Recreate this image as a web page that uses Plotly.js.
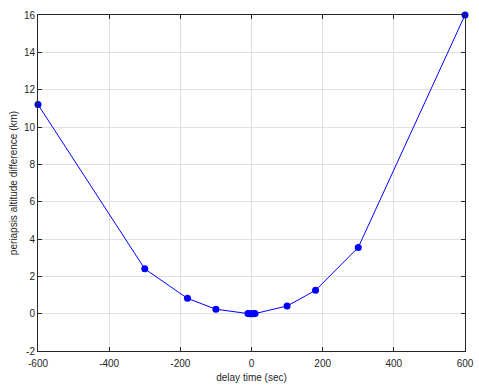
<!DOCTYPE html>
<html>
<head>
<meta charset="utf-8">
<script src="https://cdn.plot.ly/plotly-3.0.1.min.js"></script>
<style>html,body{margin:0;padding:0;background:#fff;}#chart{width:479px;height:386px;}</style>
</head>
<body>
<div id="chart"></div>
<script>
const delayTime = [-600, -300, -180, -100, -10, -5, 0, 5, 10, 100, 180, 300, 600];
const altitudeDiff = [11.2, 2.4, 0.82, 0.24, 0.004, 0.001, 0, 0.001, 0.004, 0.41, 1.25, 3.55, 16];
const xTicks = [-600, -400, -200, 0, 200, 400, 600];
const yTicks = [-2, 0, 2, 4, 6, 8, 10, 12, 14, 16];

const fontSpec = {family: 'Liberation Sans, Arial, sans-serif', size: 10, color: '#262626'};
const axisCommon = {
  showline: true, linecolor: '#262626', linewidth: 1, mirror: 'ticks',
  ticks: 'inside', ticklen: 4, tickcolor: '#262626', tickwidth: 1,
  showgrid: true, gridcolor: '#e0e0e0', gridwidth: 1,
  zeroline: false,
  tickfont: fontSpec
};

Plotly.newPlot('chart', [{
  x: delayTime, y: altitudeDiff, type: 'scatter', mode: 'lines+markers',
  cliponaxis: false,
  line: {color: '#0000ff', width: 1},
  marker: {color: '#0000ff', size: 7}
}], {
  width: 479, height: 386,
  margin: {l: 38, r: 14, t: 15, b: 35},
  paper_bgcolor: '#ffffff', plot_bgcolor: '#ffffff',
  showlegend: false,
  xaxis: Object.assign({}, axisCommon, {
    range: [-600, 600], tickvals: xTicks, ticktext: xTicks.map(String),
    ticklabelstandoff: 3,
    title: {text: 'delay time (sec)', standoff: 5, font: fontSpec}
  }),
  yaxis: Object.assign({}, axisCommon, {
    range: [-2, 16], tickvals: yTicks, ticktext: yTicks.map(String),
    title: {text: 'periapsis altitude difference (km)', standoff: 4, font: fontSpec}
  })
}, {displayModeBar: false, staticPlot: true});
</script>
</body>
</html>
